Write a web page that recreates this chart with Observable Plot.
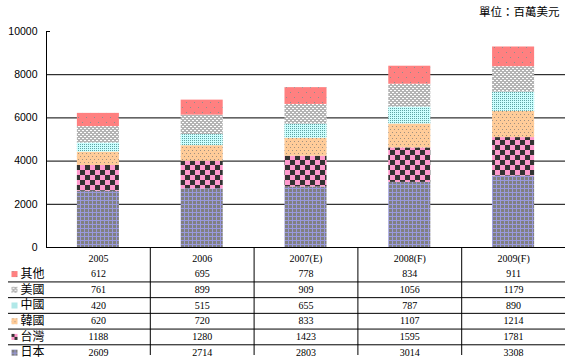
<!DOCTYPE html>
<html><head><meta charset="utf-8">
<script src="https://cdn.jsdelivr.net/npm/d3@7"></script>
<script src="https://cdn.jsdelivr.net/npm/@observablehq/plot@0.6"></script>
<style>
body{margin:0;background:#fff;}
#wrap{position:relative;width:570px;height:361px;overflow:hidden;background:#fff;}
#title{position:absolute;left:479px;top:3px;font:11.5px "Noto Sans CJK TC";color:#000;white-space:nowrap;line-height:16px;}
#chart,#table{position:absolute;left:0;width:570px;}
#chart{top:0;}
#table{top:247px;}
</style></head><body>
<div id="wrap">
<svg width="0" height="0" style="position:absolute">
<defs>
<pattern id="p-jp" patternUnits="userSpaceOnUse" width="4" height="4">
<rect width="4" height="4" fill="#808080"/><rect width="4" height="1" fill="#9999DD"/><rect width="1" height="4" fill="#9999DD"/>
</pattern>
<pattern id="p-tw" patternUnits="userSpaceOnUse" width="10" height="10">
<rect width="10" height="10" fill="#FF99CC"/><rect width="5" height="5" fill="#333333"/><rect x="5" y="5" width="5" height="5" fill="#333333"/>
</pattern>
<pattern id="p-kr" patternUnits="userSpaceOnUse" width="4" height="6">
<rect width="4" height="6" fill="#FFCC99"/><rect x="0" y="0" width="1" height="1" fill="#A09080"/><rect x="2" y="3" width="1" height="1" fill="#A09080"/>
</pattern>
<pattern id="p-cn" patternUnits="userSpaceOnUse" width="2" height="2">
<rect width="2" height="2" fill="#CCFFFF"/><rect width="1" height="1" fill="#5FA3A3"/>
</pattern>
<pattern id="p-us" patternUnits="userSpaceOnUse" width="4" height="4">
<rect width="4" height="4" fill="#B4B4B4"/><rect width="2" height="1" fill="#FFFFFF"/><rect x="2" y="2" width="2" height="1" fill="#FFFFFF"/>
</pattern>
<pattern id="p-ot" patternUnits="userSpaceOnUse" width="8" height="10">
<rect width="8" height="10" fill="#FF8080"/><rect x="2" y="2" width="1" height="1" fill="#8A9090"/><rect x="6" y="7" width="1" height="1" fill="#8A9090"/>
</pattern>
</defs></svg>
<div id="title"></div>
<div id="chart"></div>
<div id="table"></div>
</div>
<script>
const unitLabel = "單位：百萬美元";
const years = ["2005", "2006", "2007(E)", "2008(F)", "2009(F)"];
const seriesNames = ["日本", "台灣", "韓國", "中國", "美國", "其他"];
const japan  = [2609, 2714, 2803, 3014, 3308];
const taiwan = [1188, 1280, 1423, 1595, 1781];
const korea  = [620, 720, 833, 1107, 1214];
const china  = [420, 515, 655, 787, 890];
const usa    = [761, 899, 909, 1056, 1179];
const other  = [612, 695, 778, 834, 911];
const yTicks = [0, 2000, 4000, 6000, 8000, 10000];
const tableOrder = ["其他", "美國", "中國", "韓國", "台灣", "日本"];
const patternUrls = ["url(#p-jp)", "url(#p-tw)", "url(#p-kr)", "url(#p-cn)", "url(#p-us)", "url(#p-ot)"];

document.getElementById("title").textContent = unitLabel;

const seriesValues = [japan, taiwan, korea, china, usa, other];
const data = [];
seriesNames.forEach((n, si) => years.forEach((yr, i) => data.push({year: yr, name: n, value: seriesValues[si][i]})));

const chart = Plot.plot({
  width: 570, height: 258,
  marginTop: 31, marginBottom: 11, marginLeft: 46, marginRight: 5,
  style: {fontFamily: "Liberation Sans", fontSize: "10.5px", background: "transparent", color: "#000", overflow: "visible"},
  x: {domain: years, paddingInner: 0.595, paddingOuter: 0.2975, round: false, axis: null},
  y: {domain: [0, 10000], axis: null},
  color: {domain: seriesNames, range: patternUrls},
  marks: [
    Plot.ruleY(yTicks.filter(t => t < 10000), {stroke: "#000", strokeWidth: 1}),
    Plot.barY(data, {x: "year", y: "value", fill: "name"}),
    Plot.frame({anchor: "left", stroke: "#000"}),
    Plot.axisY({ticks: yTicks, tickSize: 0, tickPadding: 9, tickFormat: d => String(d), fontSize: 10.5, label: null}),
    Plot.axisY({ticks: [10000], tickSize: -4, tickFormat: () => "", label: null})
  ]
});
document.getElementById("chart").append(chart);

// Table: column index i (years), row index r (0 = header row, 1.. = tableOrder)
const byName = Object.fromEntries(seriesNames.map((n, i) => [n, seriesValues[i]]));
const headerCells = years.map((yr, i) => ({col: i, row: 0, text: yr}));
const cells = [];
tableOrder.forEach((r, ri) => years.forEach((yr, i) => cells.push({col: i, row: ri + 1, text: String(byName[r][i])})));
const legendRows = tableOrder.map((name, ri) => ({name, row: ri + 1}));
const rowLines = tableOrder.slice(0, 5).map((name, ri) => ri + 1.5);
const colLines = years.slice(1).map((yr, i) => i + 0.5);

const table = Plot.plot({
  width: 570, height: 114,
  marginTop: 3, marginBottom: 1, marginLeft: 46, marginRight: 5,
  style: {fontFamily: "Liberation Serif", fontSize: "10px", background: "transparent", color: "#000", overflow: "visible"},
  x: {type: "linear", domain: [-0.5, years.length - 0.5], axis: null},
  y: {type: "linear", domain: [-0.5, tableOrder.length + 0.5], reverse: true, axis: null},
  color: {domain: seriesNames, range: patternUrls},
  marks: [
    Plot.ruleY(rowLines, {y: d => d, insetLeft: -38, stroke: "#000"}),
    Plot.ruleX(colLines, {x: d => d, insetTop: -3, insetBottom: 5, stroke: "#000"}),
    Plot.text(headerCells, {x: "col", y: "row", text: "text", fill: "#000"}),
    Plot.text(cells, {x: "col", y: "row", text: "text", fill: "#000"}),
    Plot.dot(legendRows, {y: "row", frameAnchor: "left", dx: -32, symbol: "square", r: 3.4, fill: "name"}),
    Plot.text(legendRows, {y: "row", frameAnchor: "left", dx: -26, textAnchor: "start", text: "name", fontFamily: "Noto Sans CJK TC", fontSize: 12, fill: "#000"})
  ]
});
document.getElementById("table").append(table);
</script>
</body></html>
